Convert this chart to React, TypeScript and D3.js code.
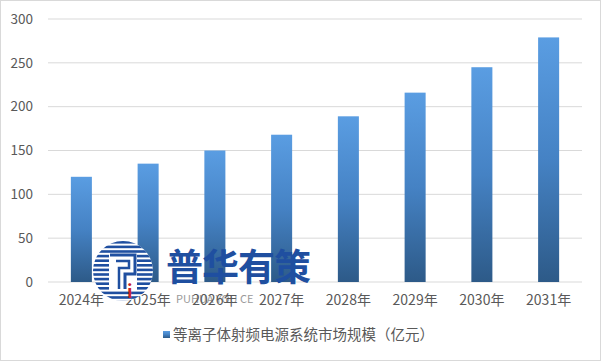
import React from "react";
import * as d3 from "d3";

const categories = ["2024年", "2025年", "2026年", "2027年", "2028年", "2029年", "2030年", "2031年"];
const values = [120, 135, 150, 168, 189, 216, 245, 279];
const yTicks = [0, 50, 100, 150, 200, 250, 300];
const seriesName = "等离子体射频电源系统市场规模（亿元）";
const watermark = "普华有策";
const watermarkSub = "PUHUA YOU CE";

export default function App() {
  const W = 601, H = 361;
  const left = 48, right = 582, top = 19, bottom = 282;
  const x = d3.scaleBand<string>().domain(categories).range([left, right]).paddingInner(0.685).paddingOuter(0.3425);
  const y = d3.scaleLinear().domain([0, 300]).range([bottom, top]);
  const font = "'Microsoft YaHei','Noto Sans CJK SC','DejaVu Sans',sans-serif";
  const cx = 123, cy = 271, r = 30;
  const stripes = d3.range(-r, r + 1, 4.6);
  return (
    <svg width={W} height={H} style={{ position: "absolute", left: 0, top: 0 }} fontFamily={font}>
      <defs>
        <linearGradient id="barGrad" x1="0" y1="0" x2="0" y2="1">
          <stop offset="0" stopColor="#5a9de2" />
          <stop offset="0.5" stopColor="#4582c4" />
          <stop offset="1" stopColor="#2d5a88" />
        </linearGradient>
        <clipPath id="logoClip">
          <circle cx={cx} cy={cy} r={r} />
        </clipPath>
      </defs>
      <rect x={0.5} y={0.5} width={W - 1} height={H - 1} fill="#fff" stroke="#d9d9d9" />
      {yTicks.map((t) => (
        <g key={t}>
          <line x1={left} x2={right} y1={y(t)} y2={y(t)} stroke="#d9d9d9" strokeWidth={1} />
          <text x={33} y={y(t)} dy="0.35em" textAnchor="end" fontSize={13.5} fill="#595959">{t}</text>
        </g>
      ))}
      {categories.map((c, i) => (
        <rect key={c} x={x(c)} y={y(values[i])} width={x.bandwidth()} height={bottom - y(values[i])} fill="url(#barGrad)" />
      ))}
      <text x={176} y={299} dy="0.35em" fontSize={11} fill="#9a9a9a">{watermarkSub}</text>
      {categories.map((c) => (
        <text key={c} x={(x(c) as number) + x.bandwidth() / 2} y={300} dy="0.35em" textAnchor="middle" fontSize={14} fill="#595959">{c}</text>
      ))}
      <rect x={163} y={331} width={7} height={7} fill="url(#barGrad)" />
      <text x={173} y={335} dy="0.35em" fontSize={14.5} fill="#595959">{seriesName}</text>
      <g>
        <circle cx={cx} cy={cy} r={r} fill="#fff" />
        <g clipPath="url(#logoClip)">
          {stripes.map((s) => (
            <rect key={s} x={cx - r} y={cy + s} width={2 * r} height={2.6} fill="#1f4fa0" />
          ))}
        </g>
        <rect x={cx - 14} y={cy - 17} width={28} height={36} fill="#fff" />
        <path d={`M${cx - 13},${cy - 16} H${cx + 12} V${cy + 3} H${cx + 2} V${cy + 18}`} fill="none" stroke="#1f4fa0" strokeWidth={3} />
        <path d={`M${cx - 7},${cy - 10} H${cx + 6} V${cy - 3} H${cx - 4} V${cy + 18}`} fill="none" stroke="#1f4fa0" strokeWidth={2.5} />
        <text x={cx + 4} y={cy + 27} fontSize={18} fontWeight="bold" fill="#c8202a">i</text>
      </g>
      <text x={166} y={268} dy="0.35em" fontSize={37} fontWeight="bold" fill="#1f4fa0" letterSpacing={-1}>{watermark}</text>
    </svg>
  );
}
